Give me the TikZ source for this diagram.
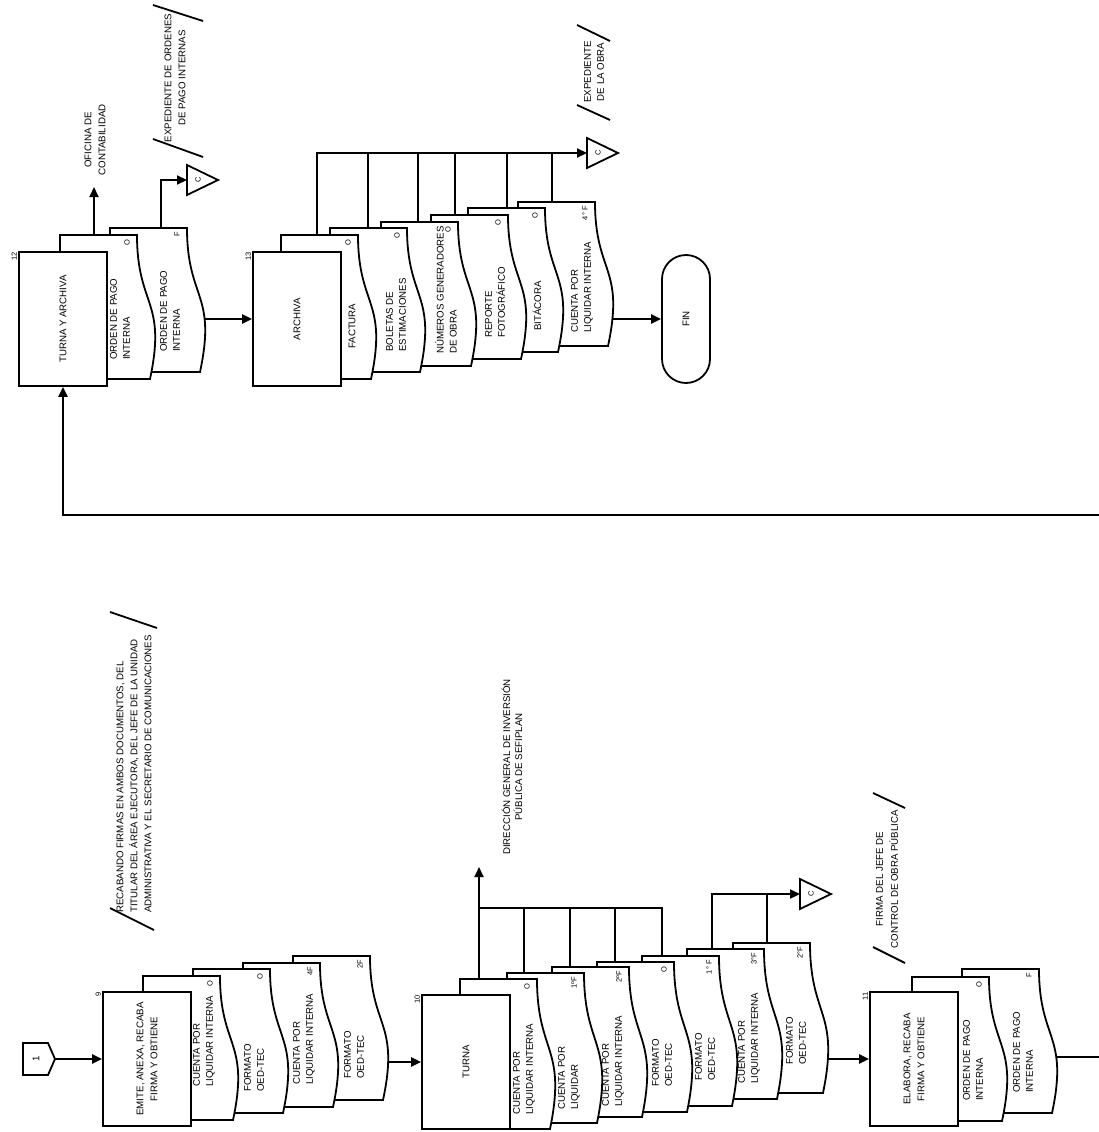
\documentclass[tikz,border=0pt]{standalone}
\usepackage{fontspec}
\setmainfont{Liberation Sans}
\usepackage{tikz}
\usetikzlibrary{arrows.meta, backgrounds}

\tikzset{
  every node/.style={font=\fontsize{9.7}{13}\selectfont},
  vert/.style={rotate=90},
  outline/.style={draw, fill=white, line width=1.8pt},
  conn/.style={line width=1.8pt},
  arr/.style={line width=2.2pt, -{Triangle[length=10pt, width=9pt]}},
  box/.style={outline, vert, minimum width=134pt, minimum height=88pt, align=center, inner sep=2pt, font=\fontsize{9.7}{14}\selectfont},
  num/.style={vert, font=\fontsize{7.5}{9}\selectfont, inner sep=1pt},
  copia/.style={vert, font=\fontsize{7.5}{9}\selectfont, inner sep=0pt},
  nota/.style={vert, align=center, inner sep=0pt, font=\fontsize{9.7}{14}\selectfont},
  marca/.style={line width=1.8pt},
  % documento: {alto}{x del texto}{margen inferior}{texto}{copia}
  pics/docu/.style n args={5}{code={
    \draw[outline] (0,0) -- (77,0) .. controls (77,0.5*#1) and (107,0.45*#1) .. (90,#1) -- (0,#1) -- cycle;
    \node[vert, align=left, inner sep=0pt, anchor=west] at (#2,#1-#3) {#4};
    \node[copia, anchor=east] at (67,4) {#5};
    \coordinate (-in) at (50,0.5*#1);
  }},
  pics/ctri/.style={code={
    \draw[outline] (0,0) -- (0,-15) -- (31,0) -- (0,15) -- cycle;
    \node[copia] at (11,0) {C};
  }}
}

\begin{document}
\begin{tikzpicture}[x=1pt, y=-1pt]
\useasboundingbox (0,0) rectangle (1099,1132);

% conector de entrada
\draw[outline] (23,1043) -- (48,1043) -- (55,1059) -- (48,1075) -- (23,1075) -- cycle;
\node[vert] (c1t) at (36,1059) {1};
\coordinate (c1) at (55,1059);

% Paso 9
\pic (d9d) at (293,956) {docu={144}{61}{21}{FORMATO\\OED-TEC}{2F}};
\pic (d9c) at (243,963) {docu={144}{61}{22}{CUENTA POR\\LIQUIDAR INTERNA}{4F}};
\pic (d9b) at (193,969) {docu={144}{61}{21}{FORMATO\\OED-TEC}{O}};
\pic (d9a) at (143,976) {docu={144}{61}{33}{CUENTA POR\\LIQUIDAR INTERNA}{O}};
\node[box] (b9) at (147,1059) {EMITE, ANEXA, RECABA\\FIRMA Y OBTIENE};
\node[num, anchor=south east] at (b9.north east) {9};

% Paso 10
\pic (d10g) at (733,943) {docu={150}{63}{28}{FORMATO\\OED-TEC}{2°F}};
\pic (d10f) at (687,949) {docu={150}{62}{15}{CUENTA POR\\LIQUIDAR INTERNA}{3°F}};
\pic (d10e) at (642,956) {docu={150}{63}{25}{FORMATO\\OED-TEC}{1° F}};
\pic (d10d) at (597,962) {docu={150}{65}{25}{FORMATO\\OED-TEC}{O}};
\pic (d10c) at (552,967) {docu={150}{61}{10}{CUENTA POR\\LIQUIDAR INTERNA}{2ºF}};
\pic (d10b) at (507,973) {docu={150}{62}{13}{CUENTA POR\\LIQUIDAR}{1ºF}};
\pic (d10a) at (460,979) {docu={150}{64}{14}{CUENTA POR\\LIQUIDAR INTERNA}{O}};
\node[box] (b10) at (466,1062) {TURNA};
\node[num, anchor=south east] at (b10.north east) {10};

% Paso 11
\pic (d11b) at (962,969) {docu={144}{61}{20}{ORDEN DE PAGO\\INTERNA}{F}};
\pic (d11a) at (912,977) {docu={144}{61}{20}{ORDEN DE PAGO\\INTERNA}{O}};
\node[box] (b11) at (914,1059) {ELABORA, RECABA\\FIRMA Y OBTIENE};
\node[num, anchor=south east] at (b11.north east) {11};

% Paso 12
\pic (d12b) at (110,228) {docu={144}{60}{20}{ORDEN DE PAGO\\INTERNA}{F}};
\pic (d12a) at (60,235) {docu={144}{60}{19}{ORDEN DE PAGO\\INTERNA}{O}};
\node[box] (b12) at (63,319) {TURNA Y ARCHIVA};
\node[num, anchor=south east] at (b12.north east) {12};

% Paso 13
\pic (d13f) at (518,202) {docu={144}{64}{13}{CUENTA POR\\LIQUIDAR INTERNA}{4° F}};
\pic (d13e) at (468,208) {docu={144}{69}{21}{BITÁCORA}{O}};
\pic (d13d) at (431,215) {docu={144}{64}{21}{REPORTE\\FOTOGRÁFICO}{O}};
\pic (d13c) at (381,222) {docu={144}{65}{12}{NÚMEROS GENERADORES\\DE OBRA}{O}};
\pic (d13b) at (330,228) {docu={144}{66}{20}{BOLETAS DE\\ESTIMACIONES}{O}};
\pic (d13a) at (281,235) {docu={144}{71}{30}{FACTURA}{O}};
\node[box] (b13) at (297,319) {ARCHIVA};
\node[num, anchor=south east] at (b13.north east) {13};

\node[outline, vert, rounded corners=24pt, minimum width=128pt, minimum height=48pt, inner sep=0pt] (fin) at (686,319) {FIN};

% conectores al archivo
\coordinate (c10) at (800,894);
\coordinate (c12) at (187,180);
\coordinate (c13) at (587,153);
\pic at (c10) {ctri};
\pic at (c12) {ctri};
\pic at (c13) {ctri};

% notas
\node[nota, align=left, anchor=west] (n9) at (134,913) {RECABANDO FIRMAS EN AMBOS DOCUMENTOS, DEL\\TITULAR DEL ÁREA EJECUTORA, DEL JEFE DE LA UNIDAD\\ADMINISTRATIVA Y EL SECRETARIO DE COMUNICACIONES};
\draw[marca] (110,908) -- (154,930);
\draw[marca] (110,612) -- (157,628);
\node[nota, font=\fontsize{9.7}{12}\selectfont] (n10) at (512,767) {DIRECCIÓN GENERAL DE INVERSIÓN\\PÚBLICA DE SEFIPLAN};
\node[nota, font=\fontsize{9.7}{15}\selectfont] (n11) at (887,879) {FIRMA DEL JEFE DE\\CONTROL DE OBRA PÚBLICA};
\draw[marca] (873,793) -- (905,808);
\draw[marca] (873,947) -- (905,963);
\node[nota] (n12a) at (95,140) {OFICINA DE\\CONTABILIDAD};
\node[nota] (n12b) at (175,78) {EXPEDIENTE DE ORDENES\\DE PAGO INTERNAS};
\draw[marca] (153,5) -- (203,21);
\draw[marca] (153,139) -- (203,157);
\node[nota, font=\fontsize{9.7}{13}\selectfont] (n13) at (594,72) {EXPEDIENTE\\DE LA OBRA};
\draw[marca] (577,25) -- (610,41);
\draw[marca] (577,105) -- (610,120);

% flujo
\coordinate (dgip) at (479,867);
\coordinate (ofi) at (94,187);
\coordinate (e1) at (1099,1057);
\coordinate (e2) at (1099,515);
\begin{scope}[on background layer]
  \draw[arr] (c1) -- (b9.north);
  \draw[arr] (d9d-in |- b10.north) -- (b10.north);
  \draw[arr] (d10g-in |- b11.north) -- (b11.north);
  \draw[conn] (d11b-in |- e1) -- (e1);
  \draw[arr] (e2) -| (b12.west);
  \draw[arr] (d12b-in |- b13.north) -- (b13.north);
  \draw[arr] (d13f-in |- fin.north) -- (fin.north);
  % salidas
  \draw[arr] (d10a-in -| dgip) -- (dgip);
  \draw[conn] (dgip |- 0,908) -| (d10e-in -| 662,0);
  \foreach \d/\x in {b/524, c/570, d/615}
    \draw[conn] (d10\d-in -| \x,0) -- (\x,908);
  \draw[arr] (d10f-in -| 712,0) |- (c10);
  \draw[conn] (d10g-in -| 767,0) -- (c10 -| 767,0);
  \draw[arr] (d12a-in -| ofi) -- (ofi);
  \draw[arr] (d12b-in -| 161,0) |- (c12);
  \draw[arr] (d13a-in -| 317,0) |- (c13);
  \foreach \d/\x in {b/368, c/418, d/455, e/507, f/552}
    \draw[conn] (d13\d-in -| \x,0) -- (c13 -| \x,0);
\end{scope}
\end{tikzpicture}
\end{document}
